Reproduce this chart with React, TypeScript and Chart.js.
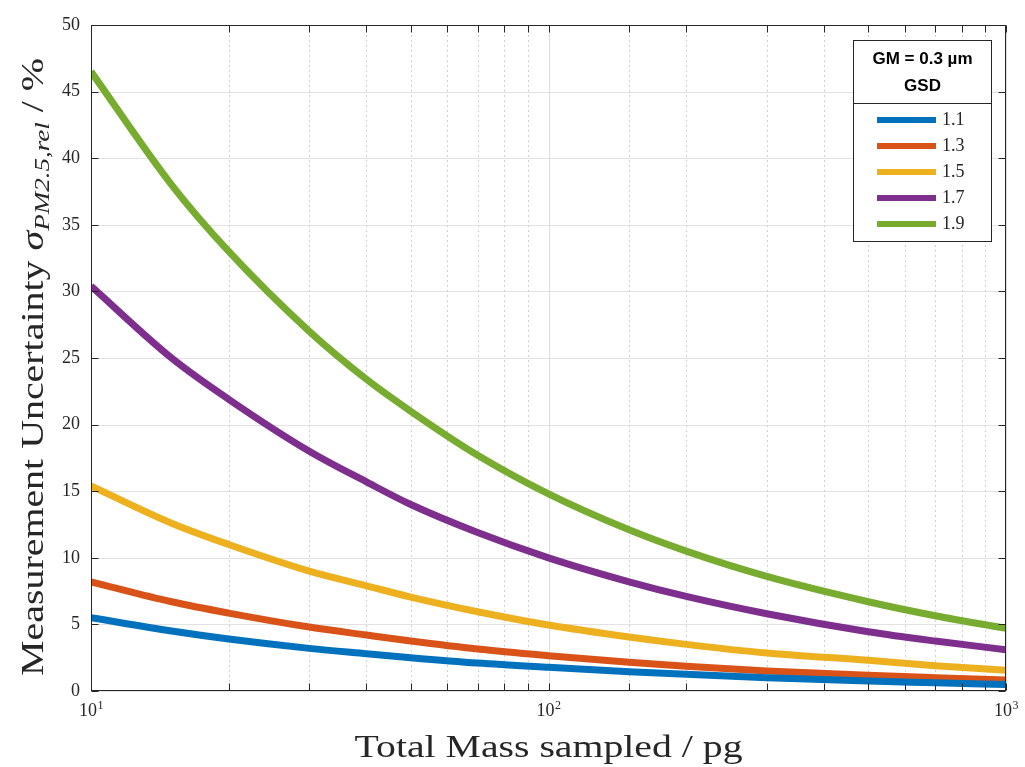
import React, { useEffect, useRef } from 'react';
import { Chart, registerables } from 'chart.js';

Chart.register(...registerables);

// ---- data ----
const massValues = [10, 15, 20, 30, 40, 50, 70, 100, 150, 200, 300, 500, 700, 1000];
const gsdLabels = ['1.1', '1.3', '1.5', '1.7', '1.9'];
const gsd11 = [5.5, 4.5, 3.9, 3.2, 2.8, 2.5, 2.1, 1.78, 1.45, 1.25, 1.0, 0.75, 0.62, 0.48];
const gsd13 = [8.2, 6.7, 5.85, 4.8, 4.2, 3.75, 3.15, 2.65, 2.15, 1.85, 1.5, 1.18, 1.0, 0.82];
const gsd15 = [15.4, 12.6, 11.0, 9.0, 7.9, 7.05, 5.95, 4.95, 4.05, 3.5, 2.85, 2.3, 1.9, 1.55];
const gsd17 = [30.4, 25.0, 21.9, 18.0, 15.7, 14.0, 11.9, 10.0, 8.2, 7.1, 5.8, 4.45, 3.75, 3.1];
const gsd19 = [46.5, 38.0, 33.0, 27.0, 23.4, 21.0, 17.7, 14.8, 12.1, 10.5, 8.6, 6.7, 5.65, 4.7];
const seriesValues = [gsd11, gsd13, gsd15, gsd17, gsd19];
const seriesColors = ['#0072BD', '#D95319', '#EDB120', '#7E2F8E', '#77AC30'];
const xTickValues = [10, 100, 1000];
const xTickExponents = ['1', '2', '3'];
const yMin = 0;
const yMax = 50;
const yStep = 5;
const legendTitle = ['GM = 0.3 \u00B5m', 'GSD'];
const xTitle = 'Total Mass sampled / pg';

const SERIF = '"Liberation Serif", "DejaVu Serif", serif';
const SANS = '"Liberation Sans", Arial, sans-serif';
const AXIS_COLOR = '#262626';

type Seg = { text: string; font: string; dy: number };

function drawSegs(ctx: CanvasRenderingContext2D, segs: Seg[], cx: number, baseY: number, target: number) {
  let total = 0;
  const widths = segs.map((s) => {
    ctx.font = s.font;
    const w = ctx.measureText(s.text).width;
    total += w;
    return w;
  });
  const sx = target / total;
  ctx.save();
  ctx.translate(cx - target / 2, baseY);
  ctx.scale(sx, 1);
  ctx.textBaseline = 'alphabetic';
  ctx.textAlign = 'left';
  ctx.fillStyle = AXIS_COLOR;
  let x = 0;
  segs.forEach((s, i) => {
    ctx.font = s.font;
    ctx.fillText(s.text, x, s.dy);
    x += widths[i];
  });
  ctx.restore();
}

const gridPlugin = {
  id: 'matlabGrid',
  beforeDatasetsDraw(chart: any) {
    const { ctx, chartArea: a, scales } = chart;
    const xs = scales.x;
    const ys = scales.y;
    ctx.save();
    ctx.lineWidth = 1;
    ctx.strokeStyle = '#e2e2e2';
    ctx.setLineDash([]);
    for (let v = yMin; v <= yMax; v += yStep) {
      const py = Math.round(ys.getPixelForValue(v)) + 0.5;
      ctx.beginPath();
      ctx.moveTo(a.left, py);
      ctx.lineTo(a.right, py);
      ctx.stroke();
    }
    xs.ticks.forEach((t: any) => {
      const v = t.value;
      const px = Math.round(xs.getPixelForValue(v)) + 0.5;
      const major = Math.abs(Math.log10(v) - Math.round(Math.log10(v))) < 1e-9;
      if (major) {
        ctx.strokeStyle = '#dcdcdc';
        ctx.setLineDash([]);
      } else {
        ctx.strokeStyle = '#d0d0d0';
        ctx.setLineDash([2, 3]);
      }
      ctx.beginPath();
      ctx.moveTo(px, a.top);
      ctx.lineTo(px, a.bottom);
      ctx.stroke();
    });
    ctx.restore();
  },
  afterDraw(chart: any) {
    const { ctx, chartArea: a, scales } = chart;
    const xs = scales.x;
    const ys = scales.y;
    ctx.save();
    ctx.strokeStyle = AXIS_COLOR;
    ctx.lineWidth = 1;
    ctx.setLineDash([]);
    const L = Math.round(a.left) + 0.5;
    const R = Math.round(a.right) - 0.5;
    const T = Math.round(a.top) + 0.5;
    const B = Math.round(a.bottom) - 0.5;
    ctx.strokeRect(L, T, R - L, B - T);
    const tl = 7;
    ctx.beginPath();
    for (let v = yMin; v <= yMax; v += yStep) {
      const py = Math.round(ys.getPixelForValue(v)) + 0.5;
      ctx.moveTo(L, py);
      ctx.lineTo(L + tl, py);
      ctx.moveTo(R, py);
      ctx.lineTo(R - tl, py);
    }
    xs.ticks.forEach((t: any) => {
      const px = Math.round(xs.getPixelForValue(t.value)) + 0.5;
      ctx.moveTo(px, B);
      ctx.lineTo(px, B - tl);
      ctx.moveTo(px, T);
      ctx.lineTo(px, T + tl);
    });
    ctx.stroke();

    // x tick labels with superscript exponents
    ctx.fillStyle = AXIS_COLOR;
    ctx.textBaseline = 'alphabetic';
    ctx.textAlign = 'left';
    xTickValues.forEach((v, i) => {
      const px = xs.getPixelForValue(v);
      ctx.font = `18px ${SERIF}`;
      const wb = ctx.measureText('10').width;
      ctx.font = `12px ${SERIF}`;
      const we = ctx.measureText(xTickExponents[i]).width;
      const x0 = px - (wb + we) / 2;
      ctx.font = `18px ${SERIF}`;
      ctx.fillText('10', x0, 716);
      ctx.font = `12px ${SERIF}`;
      ctx.fillText(xTickExponents[i], x0 + wb + 0.5, 709);
    });

    // axis titles
    drawSegs(ctx, [{ text: xTitle, font: `31px ${SERIF}`, dy: 0 }], (a.left + a.right) / 2, 757, 388);
    ctx.save();
    ctx.translate(43, 367);
    ctx.rotate(-Math.PI / 2);
    drawSegs(
      ctx,
      [
        { text: 'Measurement Uncertainty ', font: `31px ${SERIF}`, dy: 0 },
        { text: '\u03C3', font: `italic 31px ${SERIF}`, dy: 0 },
        { text: 'PM2.5,rel', font: `italic 21px ${SERIF}`, dy: 6 },
        { text: ' / %', font: `31px ${SERIF}`, dy: 0 },
      ],
      0,
      0,
      618
    );
    ctx.restore();

    // legend
    const bx = 853.5, by = 40.5, bw = 138, bh = 201;
    ctx.fillStyle = '#ffffff';
    ctx.fillRect(bx, by, bw, bh);
    ctx.strokeStyle = AXIS_COLOR;
    ctx.lineWidth = 1;
    ctx.strokeRect(bx, by, bw, bh);
    ctx.beginPath();
    ctx.moveTo(bx, 103.5);
    ctx.lineTo(bx + bw, 103.5);
    ctx.stroke();
    ctx.fillStyle = '#000000';
    ctx.font = `bold 17px ${SANS}`;
    ctx.textAlign = 'center';
    ctx.textBaseline = 'middle';
    ctx.fillText(legendTitle[0], bx + bw / 2, 59);
    ctx.fillText(legendTitle[1], bx + bw / 2, 86);
    chart.data.datasets.forEach((ds: any, i: number) => {
      const yy = 120 + i * 26;
      ctx.strokeStyle = ds.borderColor;
      ctx.lineWidth = 6;
      ctx.lineCap = 'butt';
      ctx.beginPath();
      ctx.moveTo(877, yy);
      ctx.lineTo(936, yy);
      ctx.stroke();
      ctx.fillStyle = AXIS_COLOR;
      ctx.font = `18px ${SERIF}`;
      ctx.textAlign = 'left';
      ctx.textBaseline = 'middle';
      ctx.fillText(ds.label, 942, yy);
    });
    ctx.restore();
  },
};

export default function App() {
  const ref = useRef<HTMLCanvasElement | null>(null);

  useEffect(() => {
    if (!ref.current) return;
    const datasets = seriesValues.map((vals, i) => ({
      label: gsdLabels[i],
      data: massValues.map((m, j) => ({ x: m, y: vals[j] })),
      borderColor: seriesColors[i],
      backgroundColor: seriesColors[i],
      borderWidth: 7,
      pointRadius: 0,
      cubicInterpolationMode: 'monotone' as const,
      fill: false,
    }));
    const chart = new Chart(ref.current, {
      type: 'line',
      data: { datasets },
      plugins: [gridPlugin],
      options: {
        animation: false,
        responsive: false,
        maintainAspectRatio: false,
        layout: { padding: { top: 25, right: 19, left: 0, bottom: 0 } },
        plugins: { legend: { display: false }, tooltip: { enabled: false }, title: { display: false } },
        scales: {
          x: {
            type: 'logarithmic',
            min: 10,
            max: 1000,
            grid: { display: false, drawTicks: false, tickLength: 0 },
            border: { display: false },
            afterFit: (s: any) => {
              s.height = 76;
            },
            ticks: {
              autoSkip: false,
              maxRotation: 0,
              minRotation: 0,
              padding: 8,
              color: AXIS_COLOR,
              font: { family: SERIF, size: 17 },
              callback: () => '',
            },
          },
          y: {
            type: 'linear',
            min: yMin,
            max: yMax,
            grid: { display: false, drawTicks: false, tickLength: 0 },
            border: { display: false },
            afterFit: (s: any) => {
              s.width = 91;
            },
            ticks: {
              stepSize: yStep,
              padding: 11,
              color: AXIS_COLOR,
              font: { family: SERIF, size: 18 },
            },
          },
        },
      },
    });
    return () => chart.destroy();
  }, []);

  return (
    <div style={{ position: 'absolute', left: 0, top: 0, width: 1025, height: 767, background: '#ffffff' }}>
      <canvas ref={ref} width={1025} height={767} style={{ display: 'block' }} />
    </div>
  );
}
